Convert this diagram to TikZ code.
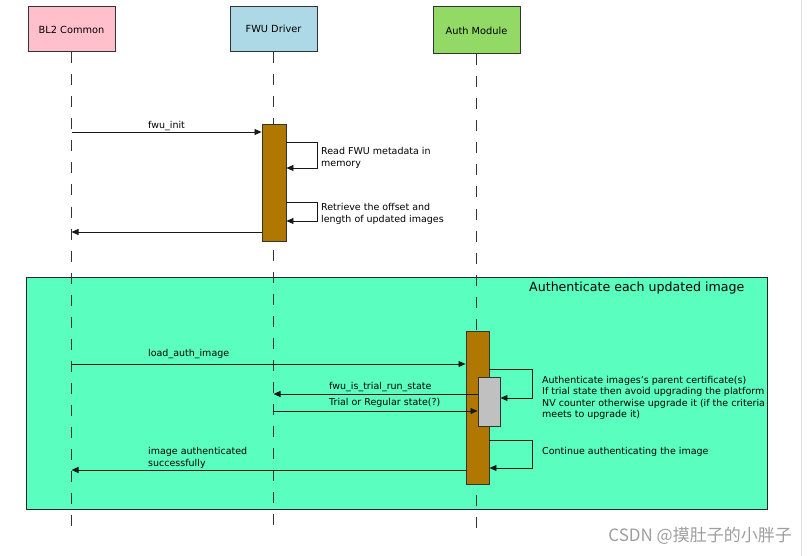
\documentclass[tikz,border=0pt]{standalone}
\usepackage{fontspec}
\setmainfont{DejaVu Sans}
\newfontfamily\cjk{Noto Sans CJK SC}
\usetikzlibrary{arrows.meta,positioning}

\definecolor{blpink}{HTML}{FFC0CB}
\definecolor{drvblue}{HTML}{ADD8E6}
\definecolor{authgreen}{HTML}{92D965}
\definecolor{loopgreen}{HTML}{5AFFBF}
\definecolor{barbrown}{HTML}{B07800}
\definecolor{trialgrey}{HTML}{C0C0C0}

\tikzset{
    actor/.style={draw=black!80, line width=1pt, minimum width=87pt, minimum height=45pt, font=\fontsize{9.8}{11}\selectfont},
    life/.style={black!80, line width=0.9pt, dash pattern=on 11pt off 11pt},
    actbar/.style={draw=black!80, line width=0.9pt, fill=barbrown, anchor=north, inner sep=0pt},
    msg/.style={black!90, line width=0.8pt, -{Triangle[length=7pt,width=6pt]}},
    lbl/.style={font=\fontsize{9.5}{11.7}\selectfont, align=left, anchor=north west, inner sep=0pt}
}

\begin{document}
\begin{tikzpicture}[x=1pt, y=-1pt]
    \useasboundingbox (0,0) rectangle (808,556);
    \draw[white] (0,0) rectangle (808,556);
    \draw[black!12, line width=1pt] (801.5,0) -- (801.5,556);

    % Loop frame
    \node[draw=black!85, line width=1pt, fill=loopgreen, minimum width=741pt, minimum height=232pt,
          anchor=north west, inner sep=0pt] (frame) at (26,277) {};
    \node[font=\fontsize{12.6}{14}\selectfont, anchor=north west, inner sep=0pt] (title) at (529,282) {Authenticate each updated image};

    % Actors
    \node[actor, fill=blpink] (bl2) at (71.5,29.5) {BL2 Common};
    \node[actor, fill=drvblue] (drv) at (273.5,29) {FWU Driver};
    \node[actor, fill=authgreen, minimum height=47pt] (auth) at (476.5,30.5) {Auth Module};

    % Lifelines
    \foreach \a in {bl2,drv,auth} {
        \draw[life] (\a.south) -- (\a.south |- 0,533);
    }

    % Activation bars
    \node[actbar, minimum width=24pt, minimum height=117pt] (drvbar) at (274,124) {};
    \node[actbar, minimum width=23pt, minimum height=153pt] (authbar) at (477.5,331) {};
    \node[actbar, fill=trialgrey, minimum width=22pt, minimum height=49pt] (trialbox) at (489,377) {};

    % FWU init
    \draw[msg] (bl2.south |- 0,132) -- (drvbar.west |- 0,132);
    \node[lbl] (initlbl) at (148,121) {fwu\_init};
    \draw[msg] (drvbar.east |- 0,142) -- ++(31,0) |- (drvbar.east |- 0,168);
    \node[lbl] (readlbl) at (321,147) {Read FWU metadata in\\memory};
    \draw[msg] (drvbar.east |- 0,202) -- ++(31,0) |- (drvbar.east |- 0,221);
    \node[lbl] (offlbl) at (321,203) {Retrieve the offset and\\length of updated images};
    \draw[msg] (drvbar.west |- 0,232) -- (bl2.south |- 0,232);

    % Authentication
    \draw[msg] (bl2.south |- 0,364) -- (authbar.west |- 0,364);
    \node[lbl] (loadlbl) at (148,349) {load\_auth\_image};
    \draw[msg] (authbar.east |- 0,369) -- (532,369) |- (trialbox.east |- 0,398);
    \draw[msg] (trialbox.west |- 0,394) -- (drv.south |- 0,394);
    \node[lbl] (triallbl) at (329,382) {fwu\_is\_trial\_run\_state};
    \draw[msg] (drv.south |- 0,411) -- (trialbox.west |- 0,411);
    \node[lbl] (statelbl) at (329,398) {Trial or Regular state(?)};
    \begin{scope}
        \clip (frame.north west) rectangle (frame.south east);
        \node[lbl] (certlbl) at (542,376) {Authenticate images's parent certificate(s)};
        \node[lbl] (nvlbl) at (542,387) {If trial state then avoid upgrading the platform\\NV counter otherwise upgrade it (if the criteria\\meets to upgrade it)};
    \end{scope}
    \draw[msg] (authbar.east |- 0,440) -- (532,440) |- (authbar.east |- 0,468);
    \node[lbl] (contlbl) at (542,447) {Continue authenticating the image};
    \draw[msg] (authbar.west |- 0,470) -- (bl2.south |- 0,470);
    \node[lbl] (donelbl) at (148,447) {image authenticated\\successfully};

    % Watermark
    \node[font=\cjk\fontsize{17}{19}\selectfont, text=black!38, anchor=east, inner sep=0pt] (mark) at (792,536) {CSDN @摸肚子的小胖子};
\end{tikzpicture}
\end{document}
